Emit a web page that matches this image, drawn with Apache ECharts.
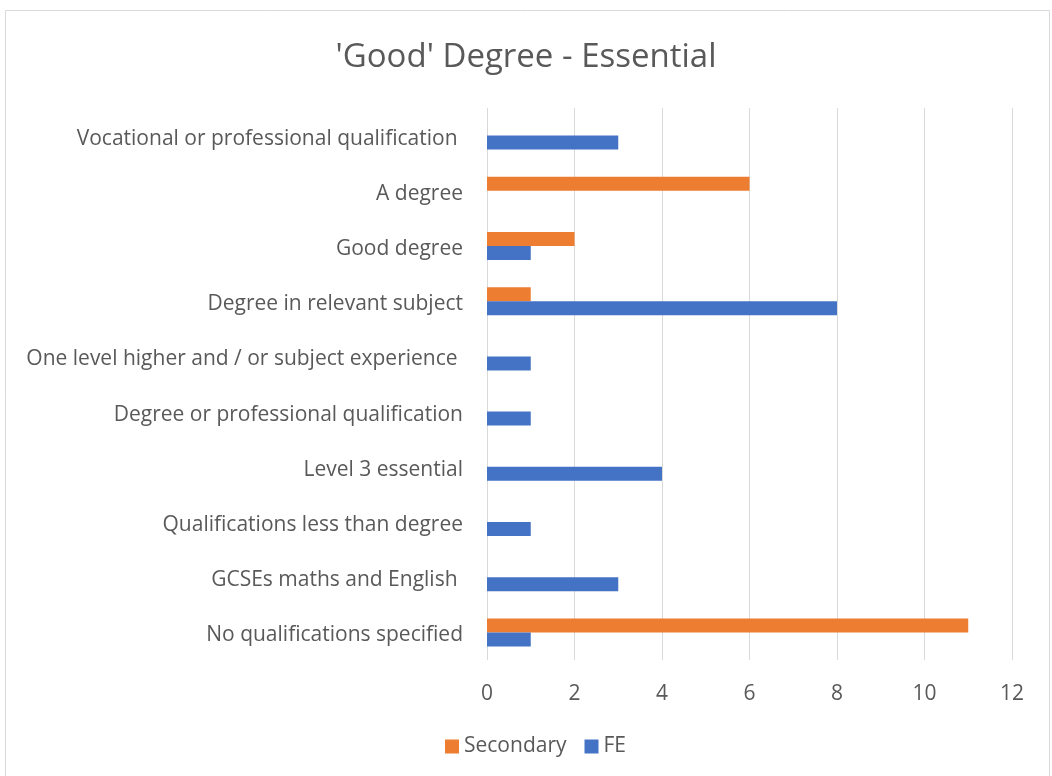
<!DOCTYPE html>
<html>
<head>
<meta charset="utf-8">
<title>'Good' Degree - Essential</title>
<script src="https://cdn.jsdelivr.net/npm/echarts@6/dist/echarts.min.js"></script>
<style>
  html, body { margin: 0; padding: 0; background: #fff; }
  #chart { width: 1052px; height: 776px; }
</style>
</head>
<body>
<div id="chart"></div>
<script>
  // categories from top to bottom, as in the picture
  var categories = [
    'Vocational or professional qualification ',
    'A degree',
    'Good degree',
    'Degree in relevant subject',
    'One level higher and / or subject experience ',
    'Degree or professional qualification',
    'Level 3 essential',
    'Qualifications less than degree',
    'GCSEs maths and English ',
    'No qualifications specified'
  ]
  var secondary = [0, 6, 2, 1, 0, 0, 0, 0, 0, 11]
  var fe = [3, 0, 1, 8, 1, 1, 4, 1, 3, 1]
  var xTicks = { min: 0, max: 12, interval: 2 }

  var textColor = '#595959'
  var font = 'Open Sans'

  var chart = echarts.init(document.getElementById('chart'))
  var option = {
    animation: false,
    backgroundColor: '#fff',
    textStyle: { fontFamily: font },
    title: {
      text: "'Good' Degree - Essential",
      left: 'center',
      top: 36,
      textStyle: { fontFamily: font, fontSize: 33, fontWeight: 'normal', color: textColor }
    },
    graphic: [{
      type: 'rect',
      shape: { x: 5.5, y: 10.5, width: 1044, height: 800 },
      style: { fill: 'none', stroke: '#d9d9d9', lineWidth: 1 },
      silent: true
    }],
    legend: {
      data: ['Secondary', 'FE'],
      bottom: 14,
      left: 440,
      itemWidth: 14,
      itemHeight: 14,
      itemGap: 18,
      icon: 'rect',
      textStyle: { fontFamily: font, fontSize: 21, color: textColor }
    },
    grid: { left: 487, right: 40, top: 108, bottom: 116, containLabel: false },
    xAxis: {
      type: 'value',
      min: xTicks.min,
      max: xTicks.max,
      interval: xTicks.interval,
      axisLine: { show: false },
      axisTick: { show: false },
      axisLabel: { fontSize: 21, color: textColor, margin: 24 },
      splitLine: { lineStyle: { color: '#d9d9d9', width: 1 } }
    },
    yAxis: {
      type: 'category',
      inverse: true,
      data: categories,
      axisLine: { show: false },
      axisTick: { show: false },
      axisLabel: {
        fontSize: 21,
        color: textColor,
        margin: 24,
        // nudge the labels a few pixels down, like the original
        formatter: function (value) { return '{c|' + value + '}' },
        rich: { c: { fontSize: 21, color: textColor, padding: [6, 0, 0, 0] } }
      }
    },
    series: [
      {
        name: 'Secondary',
        type: 'bar',
        data: secondary,
        barWidth: 14,
        barGap: '0%',
        itemStyle: { color: '#ED7D31' }
      },
      {
        name: 'FE',
        type: 'bar',
        data: fe,
        barWidth: 14,
        barGap: '0%',
        itemStyle: { color: '#4472C4' }
      }
    ]
  }
  chart.setOption(option)
</script>
</body>
</html>
